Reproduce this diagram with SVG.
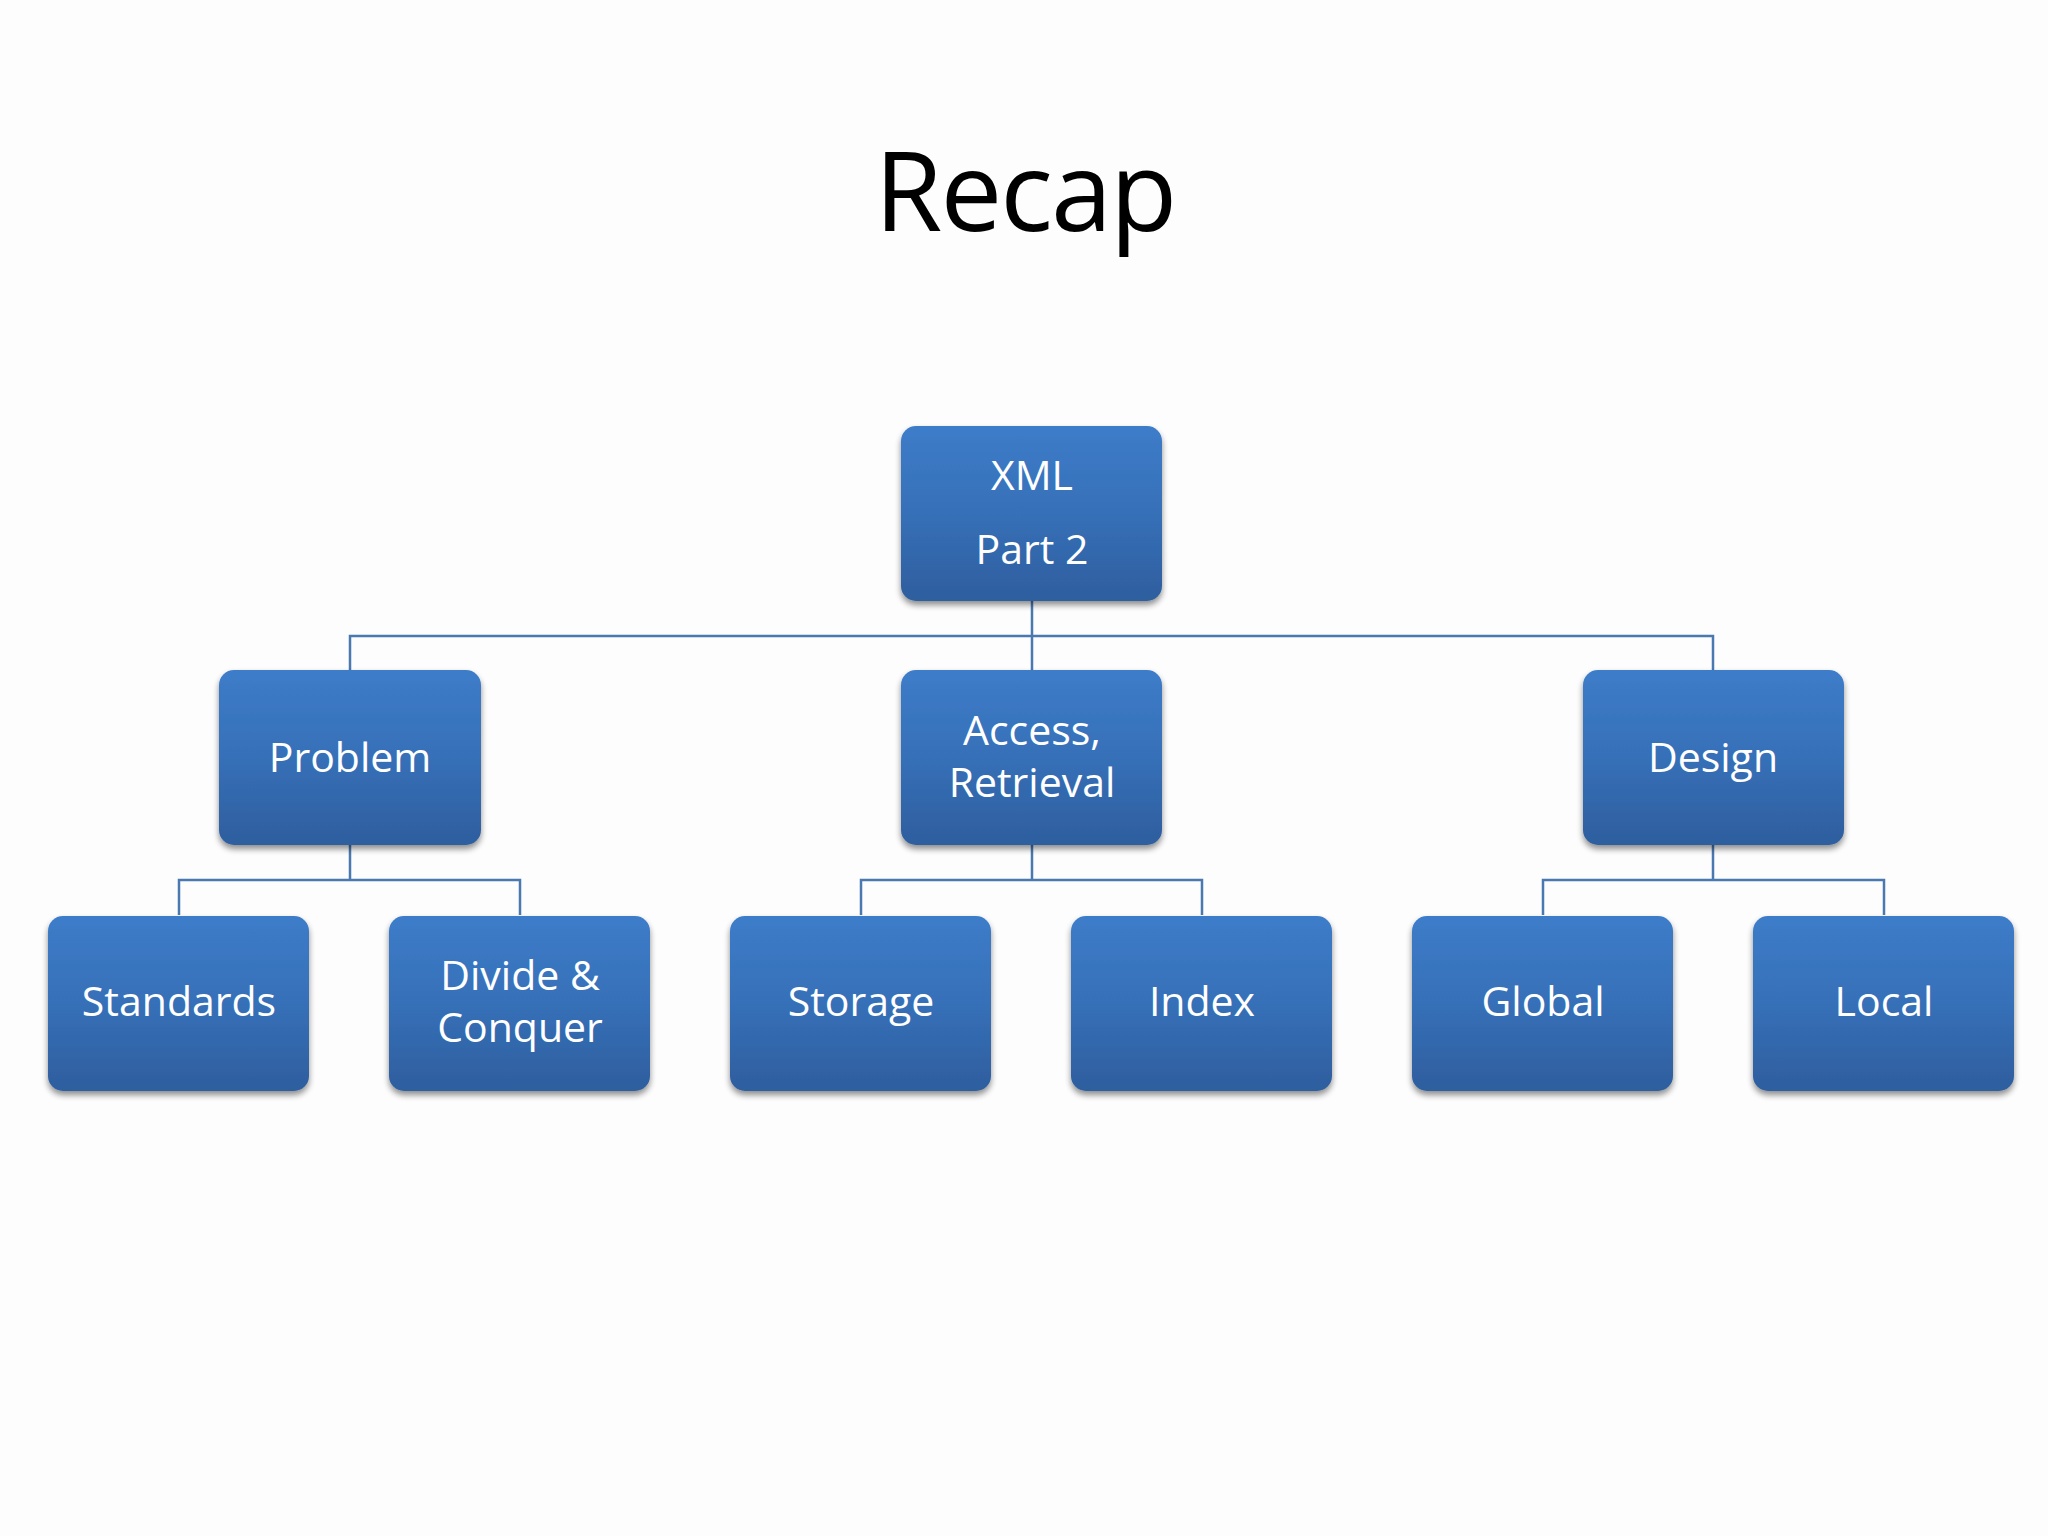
<svg xmlns="http://www.w3.org/2000/svg" width="2048" height="1536" viewBox="0 0 2048 1536">
  <defs>
    <linearGradient id="boxfill" x1="0" y1="0" x2="0" y2="1">
      <stop offset="0" stop-color="#3d7cc9"/>
      <stop offset="0.5" stop-color="#3670b8"/>
      <stop offset="1" stop-color="#2e5e9e"/>
    </linearGradient>
    <filter id="shadow" x="-10%" y="-10%" width="120%" height="130%">
      <feGaussianBlur in="SourceAlpha" stdDeviation="3"/>
      <feOffset dx="0" dy="4" result="b"/>
      <feComponentTransfer><feFuncA type="linear" slope="0.45"/></feComponentTransfer>
      <feMerge><feMergeNode/><feMergeNode in="SourceGraphic"/></feMerge>
    </filter>
  </defs>
  <style>
    .box { fill: url(#boxfill); filter: url(#shadow); }
    .lbl { fill: #ffffff; font-family: "Open Sans", "Noto Sans", "Liberation Sans", sans-serif; font-size: 41px; text-anchor: middle; }
    .conn { fill: none; stroke: #4a78b0; stroke-width: 2.5; }
    .title { fill: #000000; font-family: "Open Sans", "Noto Sans", "Liberation Sans", sans-serif; font-size: 110px; text-anchor: middle; letter-spacing: -2px; }
  </style>
  <rect x="0" y="0" width="2048" height="1536" fill="#fdfdfd"/>
  <text class="title" x="1025" y="231">Recap</text>

  <g id="connectors">
    <path class="conn" d="M1032 600 V670 M350 670 V636 H1713 V670"/>
    <path class="conn" d="M350 845 V880 M179 915 V880 H520 V915"/>
    <path class="conn" d="M1032 845 V880 M861 915 V880 H1202 V915"/>
    <path class="conn" d="M1713 845 V880 M1543 915 V880 H1884 V915"/>
  </g>

  <g id="xml">
    <rect class="box" x="901" y="426" width="261" height="175" rx="15"/>
    <text class="lbl" x="1032" y="490">XML</text>
    <text class="lbl" x="1032" y="564">Part 2</text>
  </g>
  <g id="problem">
    <rect class="box" x="219" y="670" width="262" height="175" rx="15"/>
    <text class="lbl" x="350" y="772">Problem</text>
  </g>
  <g id="access">
    <rect class="box" x="901" y="670" width="261" height="175" rx="15"/>
    <text class="lbl" x="1032" y="745">Access,</text>
    <text class="lbl" x="1032" y="797">Retrieval</text>
  </g>
  <g id="design">
    <rect class="box" x="1583" y="670" width="261" height="175" rx="15"/>
    <text class="lbl" x="1713" y="772">Design</text>
  </g>
  <g id="standards">
    <rect class="box" x="48" y="916" width="261" height="175" rx="15"/>
    <text class="lbl" x="179" y="1016">Standards</text>
  </g>
  <g id="divide">
    <rect class="box" x="389" y="916" width="261" height="175" rx="15"/>
    <text class="lbl" x="520" y="990">Divide &amp;</text>
    <text class="lbl" x="520" y="1042">Conquer</text>
  </g>
  <g id="storage">
    <rect class="box" x="730" y="916" width="261" height="175" rx="15"/>
    <text class="lbl" x="861" y="1016">Storage</text>
  </g>
  <g id="index">
    <rect class="box" x="1071" y="916" width="261" height="175" rx="15"/>
    <text class="lbl" x="1202" y="1016">Index</text>
  </g>
  <g id="global">
    <rect class="box" x="1412" y="916" width="261" height="175" rx="15"/>
    <text class="lbl" x="1543" y="1016">Global</text>
  </g>
  <g id="local">
    <rect class="box" x="1753" y="916" width="261" height="175" rx="15"/>
    <text class="lbl" x="1884" y="1016">Local</text>
  </g>
</svg>
